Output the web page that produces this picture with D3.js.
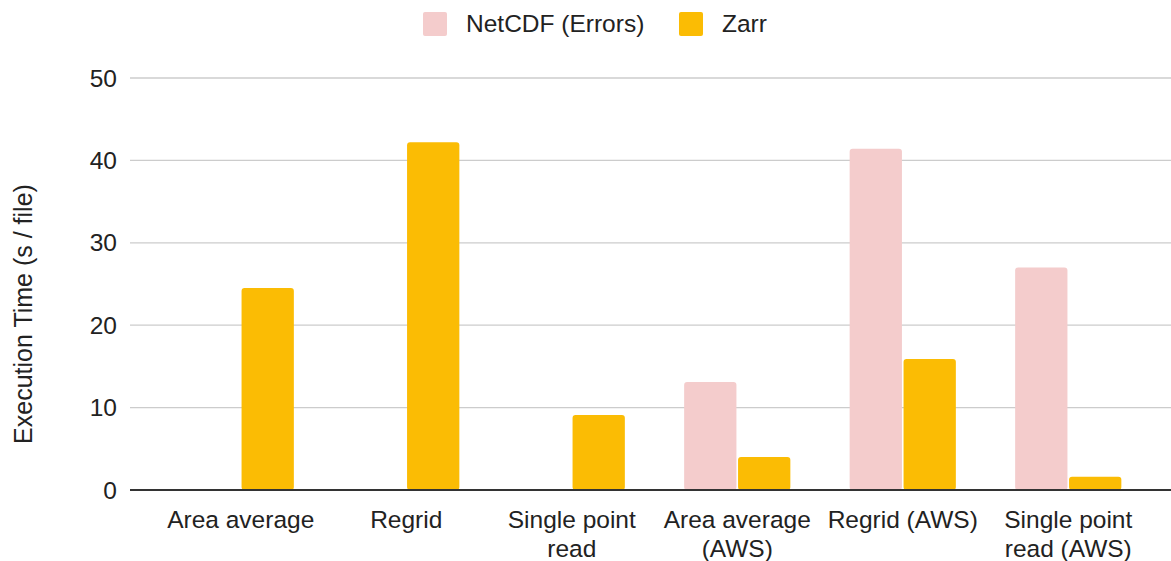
<!DOCTYPE html>
<html>
<head>
<meta charset="utf-8">
<script src="https://cdn.jsdelivr.net/npm/d3@7"></script>
<style>
  body { margin: 0; background: #fff; }
  svg text { font-family: "Liberation Sans", Arial, sans-serif; fill: #222; }
</style>
</head>
<body>
<div id="chart"></div>
<script>
// categories, two text lines each
const categories = [
  ["Area average"],
  ["Regrid"],
  ["Single point", "read"],
  ["Area average", "(AWS)"],
  ["Regrid (AWS)"],
  ["Single point", "read (AWS)"]
];
const seriesNames = ["NetCDF (Errors)", "Zarr"];
const netcdfValues = [null, null, null, 13.1, 41.4, 27.0];
const zarrValues = [24.5, 42.2, 9.1, 4.0, 15.9, 1.6];
const yTicks = [0, 10, 20, 30, 40, 50];
const colors = ["#f4cccc", "#fbbc04"];

const width = 1171, height = 561;
const fontSize = 24.5;
const svg = d3.select("#chart").append("svg")
  .attr("width", width)
  .attr("height", height);

const gridLeft = 130, gridRight = 1171;

const x = d3.scaleBand()
  .domain(d3.range(categories.length))
  .range([158, 1151])
  .paddingInner(0)
  .paddingOuter(0);

const xs = d3.scaleBand()
  .domain([0, 1])
  .range([0, x.bandwidth()])
  .paddingInner(0.03)
  .paddingOuter(0.55);

const y = d3.scaleLinear().domain([0, 50]).range([490, 78]);

// grid lines
svg.append("g")
  .selectAll("line")
  .data(yTicks.filter(d => d !== 0))
  .join("line")
  .attr("x1", gridLeft)
  .attr("x2", gridRight)
  .attr("y1", d => y(d))
  .attr("y2", d => y(d))
  .attr("stroke", "#cccccc")
  .attr("stroke-width", 1.3);

// y tick labels
svg.append("g")
  .selectAll("text")
  .data(yTicks)
  .join("text")
  .attr("x", 117)
  .attr("y", d => y(d))
  .attr("dy", "0.35em")
  .attr("text-anchor", "end")
  .attr("font-size", fontSize)
  .text(d => d);

// bars
const series = [netcdfValues, zarrValues];
series.forEach((vals, si) => {
  svg.append("g")
    .selectAll("rect")
    .data(vals.map((v, i) => ({ v, i })).filter(d => d.v != null))
    .join("rect")
    .attr("x", d => x(d.i) + xs(si))
    .attr("width", xs.bandwidth())
    .attr("y", d => y(d.v))
    .attr("height", d => y(0) - y(d.v))
    .attr("rx", 3)
    .attr("fill", colors[si]);
});

// baseline
svg.append("line")
  .attr("x1", gridLeft)
  .attr("x2", gridRight)
  .attr("y1", y(0))
  .attr("y2", y(0))
  .attr("stroke", "#333")
  .attr("stroke-width", 2);

// x labels
const xl = svg.append("g")
  .selectAll("text")
  .data(categories)
  .join("text")
  .attr("text-anchor", "middle")
  .attr("font-size", fontSize)
  .attr("x", (d, i) => x(i) + x.bandwidth() / 2)
  .attr("y", 528);
xl.selectAll("tspan")
  .data(d => d)
  .join("tspan")
  .attr("x", function () { return d3.select(this.parentNode).attr("x"); })
  .attr("dy", (d, j) => j === 0 ? 0 : 29)
  .text(d => d);

// y axis title
svg.append("text")
  .attr("transform", `translate(32, 314) rotate(-90)`)
  .attr("text-anchor", "middle")
  .attr("font-size", 25)
  .text("Execution Time (s / file)");

// legend
const legend = svg.append("g");
const legendX = [423, 679];
seriesNames.forEach((name, i) => {
  legend.append("rect")
    .attr("x", legendX[i])
    .attr("y", 12)
    .attr("width", 24)
    .attr("height", 24)
    .attr("rx", 2)
    .attr("fill", colors[i]);
  legend.append("text")
    .attr("x", legendX[i] + 43)
    .attr("y", 32)
    .attr("font-size", fontSize)
    .text(name);
});
</script>
</body>
</html>
